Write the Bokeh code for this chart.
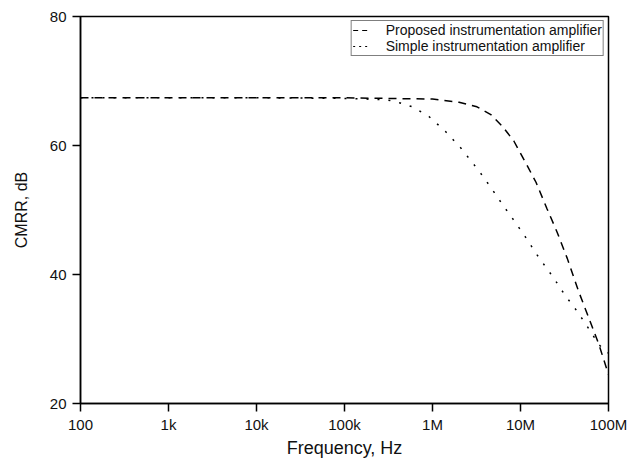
from bokeh.plotting import figure
from bokeh.models import FixedTicker, Legend, LegendItem, ColumnDataSource
from bokeh.embed import file_html
from bokeh.resources import INLINE

# ---- data ----
freq_proposed = [1e2, 1e3, 1e4, 1e5, 3e5, 1e6, 2e6, 3.2e6, 4.6e6, 6.2e6, 8.4e6,
                 1.2e7, 1.5e7, 2.0e7, 2.6e7, 3.4e7, 4.6e7, 6.0e7, 7.8e7, 1e8]
cmrr_proposed = [67.4, 67.4, 67.4, 67.4, 67.3, 67.2, 66.7, 66.0, 64.8, 63.0, 60.7,
                 56.8, 54.3, 50.2, 46.6, 42.5, 37.3, 33.2, 29.1, 24.5]

freq_simple = [1e2, 1e3, 1e4, 1e5, 3e5, 4.3e5, 5.9e5, 9.1e5, 1.4e6, 2.1e6, 3.4e6,
               4.6e6, 6.2e6, 8.4e6, 1.14e7, 1.55e7, 2.4e7, 3.2e7, 4.4e7, 5.7e7, 7.8e7, 1e8]
cmrr_simple = [67.4, 67.4, 67.4, 67.3, 67.1, 66.6, 66.0, 64.5, 62.2, 59.6, 56.0,
               53.5, 50.9, 48.4, 45.8, 43.0, 39.4, 36.8, 34.3, 32.0, 29.1, 27.8]

x_ticks = [1e2, 1e3, 1e4, 1e5, 1e6, 1e7, 1e8]
x_tick_labels = ["100", "1k", "10k", "100k", "1M", "10M", "100M"]
y_ticks = [20, 40, 60, 80]

series_names = ["Proposed instrumentation amplifier", "Simple instrumentation amplifier"]

FONT = "Liberation Sans"

p = figure(width=629, height=460, x_axis_type="log",
           x_range=(1e2, 1e8), y_range=(20, 80),
           output_backend="svg", toolbar_location=None,
           min_border_left=80, min_border_right=21,
           min_border_top=16, min_border_bottom=54)

p.background_fill_color = "white"
p.border_fill_color = "white"
p.outline_line_color = "black"
p.outline_line_width = 1.5
p.xgrid.visible = False
p.ygrid.visible = False

r1 = p.line(freq_proposed, cmrr_proposed, line_color="black", line_width=1.5,
            line_dash="8 6")
r2 = p.line(freq_simple, cmrr_simple, line_color="black", line_width=1.5,
            line_dash="2 9")

# legend-only renderers (NaN data, nothing drawn) with the legend's shorter dash patterns
nan = float("nan")
leg_src = ColumnDataSource(data=dict(x=[nan], y=[nan]))
l1 = p.line("x", "y", source=leg_src, line_color="black", line_width=1.2, line_dash="5 4")
l2 = p.line("x", "y", source=leg_src, line_color="black", line_width=1.2, line_dash="2 4")

for ax in (p.xaxis, p.yaxis):
    ax.axis_line_color = "black"
    ax.axis_line_width = 1.5
    ax.major_tick_line_color = "black"
    ax.major_tick_line_width = 1.5
    ax.major_tick_in = 0
    ax.major_tick_out = 8
    ax.minor_tick_line_color = None
    ax.major_label_text_font = FONT
    ax.major_label_text_font_size = "15px"
    ax.major_label_text_color = "#111111"
    ax.axis_label_text_font = FONT
    ax.axis_label_text_font_style = "normal"
    ax.axis_label_text_color = "#111111"

p.xaxis.axis_label_text_font_size = "18px"
p.yaxis.axis_label_text_font_size = "16px"

p.xaxis.ticker = FixedTicker(ticks=x_ticks)
p.xaxis.major_label_overrides = {t: lab for t, lab in zip(x_ticks, x_tick_labels)}
p.yaxis.ticker = FixedTicker(ticks=y_ticks)
p.xaxis.axis_label = "Frequency, Hz"
p.yaxis.axis_label = "CMRR, dB"
p.xaxis.major_label_standoff = 4
p.yaxis.major_label_standoff = 6
p.xaxis.axis_label_standoff = 2
p.yaxis.axis_label_standoff = 17

legend = Legend(items=[LegendItem(label=series_names[0], renderers=[l1]),
                       LegendItem(label=series_names[1], renderers=[l2])],
                location="top_right")
legend.margin = 4
legend.padding = 1
legend.spacing = 0
legend.glyph_width = 18
legend.glyph_height = 14
legend.label_height = 14
legend.label_standoff = 15
legend.label_text_font = FONT
legend.label_text_font_size = "14px"
legend.label_text_color = "#111111"
legend.border_line_color = "black"
legend.border_line_width = 1
legend.background_fill_color = "white"
legend.background_fill_alpha = 1.0
p.add_layout(legend)

open("out.html", "w").write(file_html(p, INLINE))
